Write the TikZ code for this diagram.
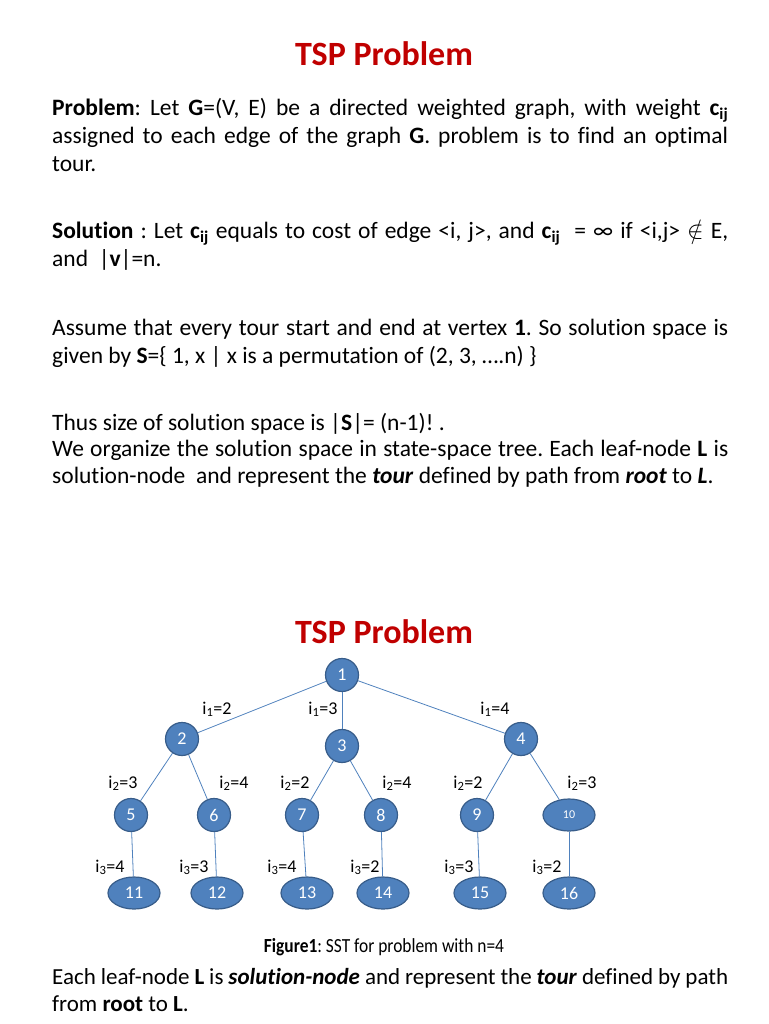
\documentclass[tikz,border=0pt]{standalone}
\usepackage{fontspec}
\setmainfont{Carlito}[Ligatures=NoCommon]
\newfontfamily\captionfont{Carlito}[FakeStretch=0.87, Ligatures=NoCommon]
\usepackage{tikz}
\usetikzlibrary{shapes.geometric,positioning}
\definecolor{titlered}{HTML}{C00000}
\definecolor{nodeblue}{HTML}{4F81BD}
\definecolor{nodeline}{HTML}{385D8A}
\newcommand{\cij}{\textbf{c\textsubscript{ij}}}
\newcommand{\bodyfont}{\fontsize{23.5}{28}\selectfont}
\hyphenpenalty=10000
\exhyphenpenalty=10000
\frenchspacing

\begin{document}
\begin{tikzpicture}[
  x=1pt, y=-1pt,
  title/.style={anchor=base, inner sep=0pt, text=titlered,
                font=\fontsize{34}{34}\selectfont\bfseries},
  para/.style={anchor=base west, inner sep=0pt, text width=676pt,
               align=justify, font=\bodyfont},
  vertex/.style={circle, fill=nodeblue, draw=nodeline, line width=1.2pt,
                 minimum size=33pt, inner sep=0pt, text=white,
                 font=\fontsize{18}{18}\selectfont},
  leafnode/.style={vertex, ellipse, minimum width=52pt, minimum height=32pt},
  lbl/.style={anchor=base, inner sep=0pt, font=\fontsize{18}{18}\selectfont},
  edge/.style={draw=nodeblue, line width=0.8pt},
]
\useasboundingbox (0,0) rectangle (768,1024);

% Text part
\node[title] (title) at (384,66) {TSP Problem};
\node[para] (problem) at (52,116) {\textbf{Problem}: Let \textbf{G}=(V, E) be a directed weighted graph, with weight \cij\linebreak
  assigned to each edge of the graph \textbf{G}. problem is to find an optimal\linebreak tour.};
\node[para] (solution) at (52,239) {\textbf{Solution} : Let \cij{} equals to cost of edge <i, j>, and \cij{} \ = ∞ if <i,j> $\notin$ E,\linebreak
  and \ |\textbf{v}|=n.};
\node[para] (assume) at (52,335) {Assume that every tour start and end at vertex \textbf{1}. So solution space is\linebreak
  given by \textbf{S}=\{ 1, x | x is a permutation of (2, 3, \ldots.n) \}};
\node[para] (size) at (52,430) {Thus size of solution space is |\textbf{S}|= (n-1)! .};
\node[para, font=\fontsize{23.5}{27}\selectfont] (organize) at (52,456) {We organize the solution space in state-space tree. Each leaf-node \textbf{L} is\linebreak
  solution-node \ and represent the \textbf{\textit{tour}} defined by path from \textbf{\textit{root}} to \textbf{\textit{L}}.};

% State space tree
\node[title] (treetitle) at (384,643) {TSP Problem};
\node[vertex] (n1) at (342,675) {1};
\node[vertex] (n2) at (182,739) {2};
\node[vertex] (n3) at (342,746) {3};
\node[vertex] (n4) at (521,739) {4};
\node[vertex] (n5) at (131,815) {5};
\node[vertex] (n6) at (214,815) {6};
\node[vertex] (n7) at (302,815) {7};
\node[vertex] (n8) at (381,815) {8};
\node[vertex] (n9) at (477,815) {9};
\node[leafnode, font=\fontsize{12}{12}\selectfont] (n10) at (569,815) {10};
\node[leafnode] (n11) at (134,893) {11};
\node[leafnode] (n12) at (217,893) {12};
\node[leafnode] (n13) at (307,893) {13};
\node[leafnode] (n14) at (383,893) {14};
\node[leafnode] (n15) at (480,893) {15};
\node[leafnode] (n16) at (569,893) {16};

% Edges
\draw[edge] (n1) -- (n2);
\draw[edge] (n1) -- (n3);
\draw[edge] (n1) -- (n4);
\draw[edge] (n2) -- (n5);
\draw[edge] (n2) -- (n6);
\draw[edge] (n3) -- (n7);
\draw[edge] (n3) -- (n8);
\draw[edge] (n4) -- (n9);
\draw[edge] (n4) -- (n10);
\draw[edge] (n5) -- (n11);
\draw[edge] (n6) -- (n12);
\draw[edge] (n7) -- (n13);
\draw[edge] (n8) -- (n14);
\draw[edge] (n9) -- (n15);
\draw[edge] (n10) -- (n16);

% Edge labels
\node[lbl] (l12) at (217,714) {i\textsubscript{1}=2};
\node[lbl] (l13) at (323,714) {i\textsubscript{1}=3};
\node[lbl] (l14) at (495,714) {i\textsubscript{1}=4};
\node[lbl] (l25) at (123,788) {i\textsubscript{2}=3};
\node[lbl] (l26) at (234,788) {i\textsubscript{2}=4};
\node[lbl] (l37) at (295,788) {i\textsubscript{2}=2};
\node[lbl] (l38) at (397,788) {i\textsubscript{2}=4};
\node[lbl] (l49) at (468,788) {i\textsubscript{2}=2};
\node[lbl] (l410) at (582,788) {i\textsubscript{2}=3};
\node[lbl] (l511) at (110,872) {i\textsubscript{3}=4};
\node[lbl] (l612) at (194,872) {i\textsubscript{3}=3};
\node[lbl] (l713) at (282,872) {i\textsubscript{3}=4};
\node[lbl] (l814) at (365,872) {i\textsubscript{3}=2};
\node[lbl] (l915) at (459,872) {i\textsubscript{3}=3};
\node[lbl] (l1016) at (547,872) {i\textsubscript{3}=2};

% Caption and closing text
\node[anchor=base, inner sep=0pt, font=\captionfont\fontsize{20}{20}\selectfont] (caption) at (384,952)
  {\textbf{Figure1}: SST for problem with n=4};
\node[para, font=\fontsize{23}{27}\selectfont] (leaf) at (52,984) {Each leaf-node \textbf{L} is \textbf{\textit{solution-node}} and represent the \textbf{\textit{tour}} defined by path\linebreak
  from \textbf{root} to \textbf{L}.};
\end{tikzpicture}
\end{document}
